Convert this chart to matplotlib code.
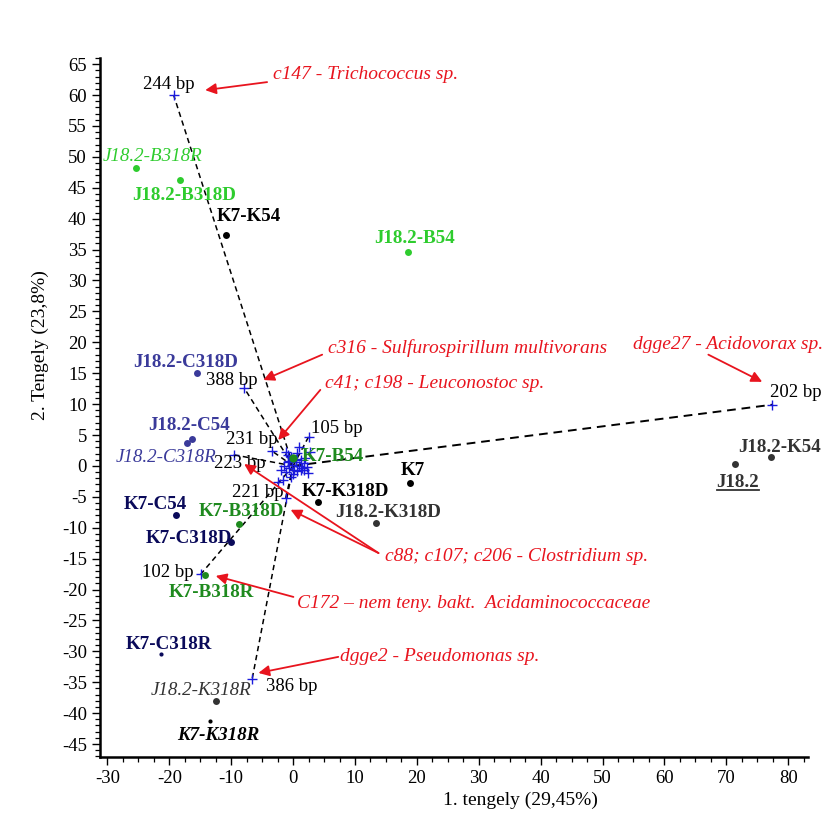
import matplotlib
matplotlib.use("Agg")
import matplotlib.pyplot as plt
from matplotlib.ticker import MultipleLocator
from matplotlib.lines import Line2D

plt.rcParams['font.family'] = ['Liberation Serif', 'DejaVu Serif']
plt.rcParams['axes.unicode_minus'] = False

# ---- sample scores ----
samples = ["J18.2-B318R", "J18.2-B318D", "K7-K54", "J18.2-B54", "J18.2-C318D",
           "J18.2-C318R", "J18.2-C54", "K7-B54", "K7-C54", "K7-B318D", "K7-C318D",
           "K7-K318D", "K7", "J18.2-K318D", "K7-B318R", "K7-C318R", "J18.2-K318R",
           "K7-K318R", "J18.2-K54", "J18.2"]
sample_x = [-25.4, -18.3, -10.8, 18.5, -15.5, -17.1, -16.3, 0.0, -19.0, -8.7, -10.1,
            4.1, 18.9, 13.4, -14.3, -21.3, -12.4, -13.4, 77.2, 71.4]
sample_y = [48.2, 46.3, 37.4, 34.6, 15.1, 3.7, 4.4, 1.3, -7.9, -9.4, -12.3,
            -5.8, -2.8, -9.2, -17.6, -30.4, -38.0, -41.3, 1.5, 0.3]

# ---- labelled loadings (bands) ----
bands = ["244 bp", "388 bp", "105 bp", "231 bp", "223 bp", "221 bp", "102 bp", "386 bp", "202 bp"]
band_x = [-19.3, -7.9, 2.5, -3.4, -9.6, -1.2, -14.9, -6.6, 77.4]
band_y = [60.0, 12.6, 4.7, 2.4, 1.8, -5.2, -17.5, -34.4, 9.9]

# ---- unlabelled loadings clustered near the origin ----
cluster_x = [-1.2, -0.8, 0.7, 1.9, 2.3, 1.2, 2.4, -0.4, -1.6, -2.4, -0.9, -0.1, 0.4, 0.9,
             -0.6, 0.2, -1.4, 1.2, -0.3, 0.5, 1.7, -1.1, 1.5, 0.0, -0.6, 0.7, -1.9, 1.8,
             1.0, 2.8]
cluster_y = [2.3, 1.8, 2.1, 1.3, -0.2, -0.6, -1.1, -1.8, -2.3, -2.6, 0.6, 0.2, 0.6, 0.0,
             -0.3, -0.6, 0.0, 1.0, 1.5, 1.1, 0.5, -1.0, -0.3, -1.3, 0.8, -0.8, -0.6, -0.6,
             3.0, 2.2]

# ---- annotations ----
notes = ["c147 - Trichococcus sp.", "c316 - Sulfurospirillum multivorans",
         "c41; c198 - Leuconostoc sp.", "dgge27 - Acidovorax sp.",
         "c88; c107; c206 - Clostridium sp.",
         "C172 \u2013 nem teny. bakt.  Acidaminococcaceae", "dgge2 - Pseudomonas sp."]

# ---------------- styles / layout ----------------
GREEN = "#2ecc2e"
DGREEN = "#1e8a1e"
SLATE = "#3a3a9a"
NAVY = "#0a0a5a"
BLACK = "#000000"
DGRAY = "#333333"
RED = "#e8141e"
BLUE = "#1a1adc"
FS = 13.7

sample_style = {
    "J18.2-B318R": (GREEN, "normal", "italic", 5, (17, 12)),
    "J18.2-B318D": (GREEN, "bold", "normal", 5, (4, -16)),
    "K7-K54": (BLACK, "bold", "normal", 5, (23, 18)),
    "J18.2-B54": (GREEN, "bold", "normal", 5, (7, 14)),
    "J18.2-C318D": (SLATE, "bold", "normal", 5, (-12, 10)),
    "J18.2-C318R": (SLATE, "normal", "italic", 5, (-21, -14)),
    "J18.2-C54": (SLATE, "bold", "normal", 5, (-3, 13)),
    "K7-B54": (DGREEN, "bold", "normal", 6, (40, 1)),
    "K7-C54": (NAVY, "bold", "normal", 5, (-20, 10)),
    "K7-B318D": (DGREEN, "bold", "normal", 5, (2, 12)),
    "K7-C318D": (NAVY, "bold", "normal", 5, (-42, 3)),
    "K7-K318D": (BLACK, "bold", "normal", 5, (27, 10)),
    "K7": (BLACK, "bold", "normal", 5, (3, 13)),
    "J18.2-K318D": (DGRAY, "bold", "normal", 5, (12, 10)),
    "K7-B318R": (DGREEN, "bold", "normal", 5, (7, -18)),
    "K7-C318R": (NAVY, "bold", "normal", 3, (8, 9)),
    "J18.2-K318R": (DGRAY, "normal", "italic", 5, (-15, 10)),
    "K7-K318R": (BLACK, "bold", "italic", 3, (8, -14)),
    "J18.2-K54": (DGRAY, "bold", "normal", 5, (9, 9)),
    "J18.2": (DGRAY, "bold", "normal", 5, (3, -18)),
}
band_offsets = {
    "244 bp": (-5, 11), "388 bp": (-12, 8), "105 bp": (28, 8), "231 bp": (-20, 12),
    "223 bp": (6, -9), "221 bp": (-28, 6), "102 bp": (-33, 2), "386 bp": (40, -8),
    "202 bp": (24, 12),
}
# (text position, list of arrow heads, arrow tail) in data units
note_layout = [
    ((-3.2, 63.3), [(-14.2, 60.8)], (-4.2, 62.1)),
    ((5.7, 19.1), [(-4.8, 13.9)], (4.7, 18.0)),
    ((5.1, 13.4), [(-2.4, 4.2)], (4.4, 12.3)),
    ((55.0, 19.6), [(75.8, 13.6)], (67.1, 18.0)),
    ((14.9, -14.7), [(-7.9, 0.3), (-0.4, -7.1)], (13.8, -14.1)),
    ((0.7, -22.2), [(-12.5, -17.8)], (0.05, -21.2)),
    ((7.6, -30.9), [(-5.6, -33.5)], (7.3, -30.9)),
]

W, H = 828, 833
fig = plt.figure(figsize=(W / 100, H / 100), dpi=100)
ax = fig.add_axes([100 / W, 1 - 757 / H, (808 - 100) / W, (757 - 58) / H])
ax.set_xlim(-31.2, 83.2)
ax.set_ylim(-47.1, 66.0)

for s in ["top", "right"]:
    ax.spines[s].set_visible(False)
for s in ["left", "bottom"]:
    ax.spines[s].set_linewidth(1.8)

ax.xaxis.set_minor_locator(MultipleLocator(2.5))
ax.yaxis.set_minor_locator(MultipleLocator(1))
ax.set_xticks(range(-30, 81, 10))
ax.set_yticks(range(-45, 66, 5))
ax.tick_params(which="major", length=6, width=1.0, labelsize=13.5, direction="out")
ax.tick_params(which="minor", length=3.5, width=0.9, direction="out")

# dashed vectors from origin to labelled bands
for name, bx, by in zip(bands, band_x, band_y):
    if name == "202 bp":
        ax.plot([0, bx], [0, by], ls=(0, (4.5, 3)), color="black", lw=1.4, zorder=1)
    else:
        ax.plot([0, bx], [0, by], ls=(0, (3.5, 2.5)), color="black", lw=1.1, zorder=1)

# loadings
ax.scatter(cluster_x, cluster_y, marker="+", s=55, color=BLUE, linewidths=1.0, zorder=3)
ax.scatter(band_x, band_y, marker="+", s=55, color=BLUE, linewidths=1.0, zorder=3)
for name, bx, by in zip(bands, band_x, band_y):
    ax.annotate(name, (bx, by), xytext=band_offsets[name], textcoords="offset pixels",
                ha="center", va="center", fontsize=13.5, color="black", zorder=5)

# samples
texts = {}
for name, sx, sy in zip(samples, sample_x, sample_y):
    col, wt, st, ms, off = sample_style[name]
    ax.plot(sx, sy, "o", ms=ms, color=col, zorder=4, mec="none")
    texts[name] = ax.annotate(name, (sx, sy), xytext=off, textcoords="offset pixels",
                              ha="center", va="center", fontsize=FS, color=col,
                              fontweight=wt, fontstyle=st, zorder=5)

# red annotations
for text, (pos, heads, tail) in zip(notes, note_layout):
    ax.text(pos[0], pos[1], text, color=RED, fontsize=14, fontstyle="italic",
            ha="left", va="center", zorder=6)
    for hd in heads:
        ax.annotate("", xy=hd, xytext=tail,
                    arrowprops=dict(arrowstyle="-|>", color=RED, lw=1.3,
                                    mutation_scale=16, shrinkA=0, shrinkB=0), zorder=6)

fig.text(520 / W, 1 - 800 / H, "1. tengely (29,45%)", ha="center", va="center", fontsize=14)
fig.text(40 / W, 1 - 345 / H, "2. Tengely (23,8%)", ha="center", va="center",
         fontsize=14, rotation=90)

# underline for J18.2
fig.canvas.draw()
bb = texts["J18.2"].get_window_extent(fig.canvas.get_renderer())
fig.add_artist(Line2D([bb.x0 / W, bb.x1 / W], [(bb.y0 + 1) / H, (bb.y0 + 1) / H],
                      color=DGRAY, lw=1.3))

fig.savefig("out.png", dpi=100)
